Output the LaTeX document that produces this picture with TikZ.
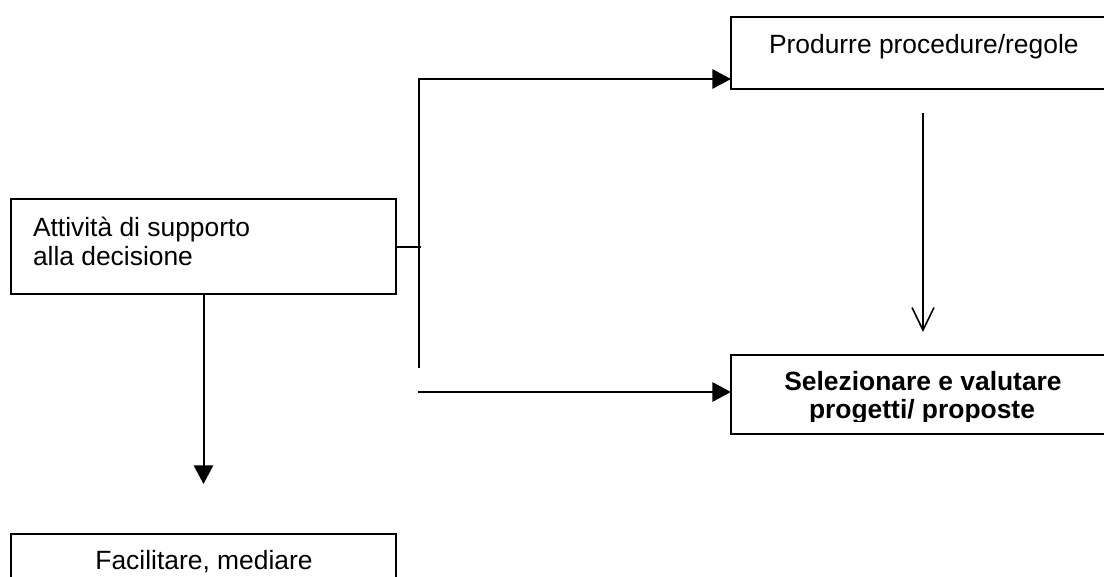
\documentclass[tikz,border=0pt]{standalone}
\usepackage{fontspec}
\setmainfont{Liberation Sans}
\usetikzlibrary{arrows.meta}
\begin{document}
\begin{tikzpicture}[x=0.75pt,y=-0.75pt,line width=1.5pt,
  boxnode/.style={draw,rectangle,inner sep=0pt,outer sep=0pt},
  txt/.style={inner sep=0pt,font=\fontsize{19.8}{22}\selectfont},
  filltip/.style={-{Triangle[length=14pt,width=14.5pt]}},
  opentip/.style={-{Straight Barb[length=17pt,width=16.5pt]}}]
\useasboundingbox (0,0) rectangle (1104,576);
% boxes
\node[boxnode,minimum width=288.75pt,minimum height=71.25pt] (A) at (203.5,246.5) {};
\node[boxnode,minimum width=299.25pt,minimum height=54pt] (B) at (930.5,53) {};
\node[boxnode,minimum width=288pt,minimum height=59.25pt] (C) at (923,394.5) {};
\node[boxnode,minimum width=288.75pt,minimum height=64.5pt] (D) at (203.5,577) {};
% texts
\node[txt,anchor=base west] (tA1) at (32,236) {Attività di supporto};
\node[txt,anchor=base west] (tA2) at (32,265) {alla decisione};
\node[txt,anchor=base west] (tB) at (768,53) {Produrre procedure/regole};
\node[txt,anchor=base,font=\fontsize{19.8}{22}\selectfont\bfseries] (tC1) at (923,390) {Selezionare e valutare};
\begin{scope}
\clip (731,360) rectangle (1104,421);
\node[txt,anchor=base,font=\fontsize{19.8}{22}\selectfont\bfseries] (tC2) at (922,418) {progetti/ proposte};
\end{scope}
\node[txt,anchor=base] (tD) at (204,569) {Facilitare, mediare};
% coordinates
\coordinate (stub) at (421,247);
\coordinate (jtop) at (419,79);
\coordinate (jbot) at (419,368);
\coordinate (c1) at (418,392);
\coordinate (dtip) at (203.5,484);
\coordinate (oa) at (923,113);
\coordinate (ob) at (923,332);
% connectors
\draw (A.east |- stub) -- (stub);
\draw[filltip] (jbot) -- (jtop) -- (jtop -| B.west);
\draw[filltip] (c1) -- (c1 -| C.west);
\draw[filltip] (A.south) -- (dtip);
\draw[opentip,line width=1.2pt] (oa) -- (ob);
\end{tikzpicture}
\end{document}
